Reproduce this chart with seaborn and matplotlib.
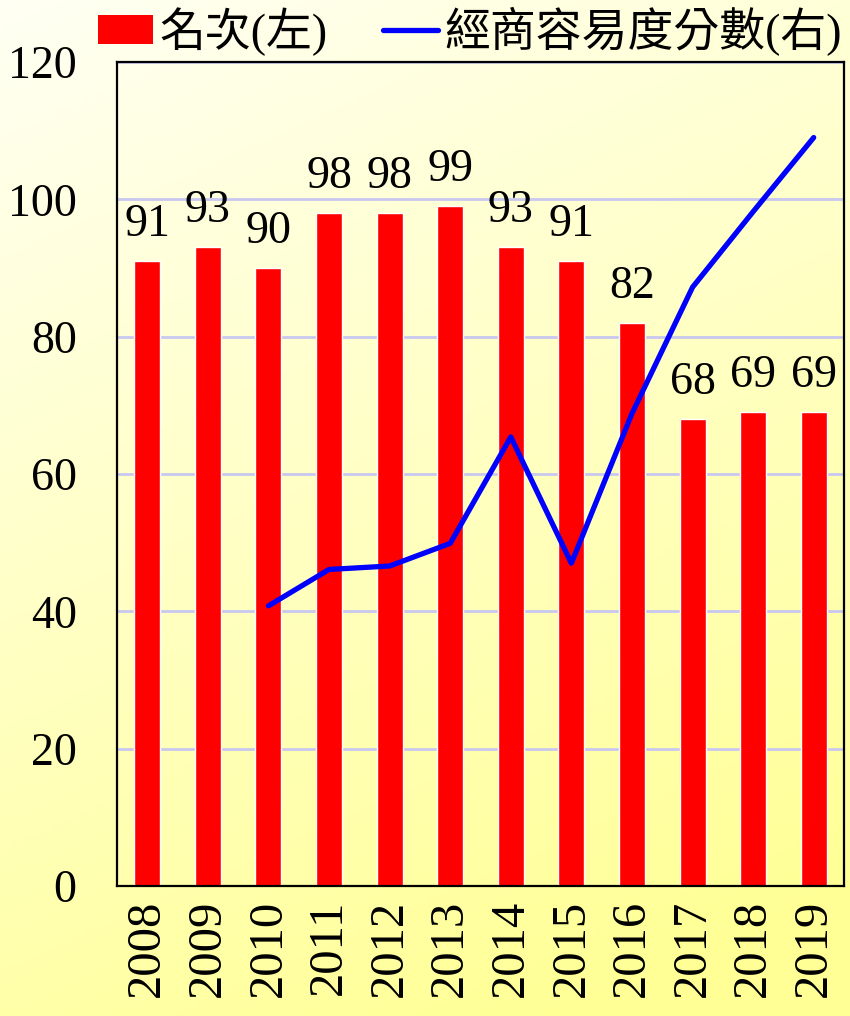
import numpy as np
import pandas as pd
import matplotlib
matplotlib.use("Agg")
import matplotlib.pyplot as plt
import seaborn as sns
from matplotlib.patches import Patch
from matplotlib.lines import Line2D

# data
years = ['2008', '2009', '2010', '2011', '2012', '2013',
         '2014', '2015', '2016', '2017', '2018', '2019']
rank = [91, 93, 90, 98, 98, 99, 93, 91, 82, 68, 69, 69]
score = [np.nan, np.nan, 40.8, 46.1, 46.6, 49.9, 65.4, 47.0, 68.8, 87.2, 98.2, 109.0]
yticks = [0, 20, 40, 60, 80, 100, 120]
legend_labels = ['名次(左)', '經商容易度分數(右)']

sns.set_theme(style='white')
fonts = ['Liberation Serif', 'Noto Sans CJK TC', 'DejaVu Sans']
plt.rcParams['font.family'] = fonts
plt.rcParams['text.color'] = 'black'
plt.rcParams['xtick.color'] = 'black'
plt.rcParams['ytick.color'] = 'black'

df = pd.DataFrame({'year': years, 'rank': rank, 'score': score,
                   'pos': np.arange(len(years))})

fig = plt.figure(figsize=(8.5, 10.16), dpi=100)

# background gradient (pale cream top-left -> yellow bottom)
bg = fig.add_axes([0, 0, 1, 1])
gx, gy = np.meshgrid(np.linspace(0, 1, 200), np.linspace(0, 1, 240))
t = np.clip(0.8 * gy + 0.3 * gx, 0, 1)
c0 = np.array([255, 255, 244]) / 255
c1 = np.array([255, 255, 150]) / 255
img = c0 + (c1 - c0) * t[..., None]
bg.imshow(img, aspect='auto', extent=[0, 1, 0, 1], origin='upper')
bg.set_axis_off()

ax = fig.add_axes([117 / 850, 1 - 886 / 1016, 727 / 850, 824 / 1016])
ax.set_facecolor('none')

sns.barplot(data=df, x='year', y='rank', color='#ff0000', saturation=1,
            width=0.43, ax=ax, zorder=2)
ax.bar_label(ax.containers[0], fontsize=33, padding=11, color='black')

ax.set_ylim(0, 120)
ax.set_xlim(-0.5, len(years) - 0.5)
ax.set_yticks(yticks)
ax.set_yticklabels([str(v) for v in yticks], fontsize=33)
ax.tick_params(axis='y', length=0, pad=29)
ax.tick_params(axis='x', length=0, pad=10, labelsize=35, labelrotation=90)
ax.set_xlabel('')
ax.set_ylabel('')
ax.yaxis.grid(True, color='#c8c8f0', linewidth=2, zorder=0)
ax.set_axisbelow(True)
for sp in ax.spines.values():
    sp.set_color('black')
    sp.set_linewidth(1.6)

# right axis for the score line (ticks hidden as in reference)
ax2 = ax.twinx()
sns.lineplot(data=df, x='pos', y='score', color='#0000ff', linewidth=3.8,
             ax=ax2, zorder=3)
ax2.set_ylim(0, 120)
ax2.set_yticks([])
ax2.set_ylabel('')
ax2.set_xlabel('')
ax2.set_xlim(-0.5, len(years) - 0.5)
for sp in ax2.spines.values():
    sp.set_visible(False)

handles = [Patch(facecolor='#ff0000', edgecolor='none'),
           Line2D([0], [0], color='#0000ff', linewidth=3.8)]
fig.legend(handles, legend_labels, loc='upper center', ncol=2,
           bbox_to_anchor=(0.553, 1.034), frameon=False,
           prop={'family': fonts, 'size': 33},
           handlelength=1.2, handleheight=0.6, handletextpad=0.15,
           columnspacing=1.2)

fig.savefig('out.png', dpi=100)
